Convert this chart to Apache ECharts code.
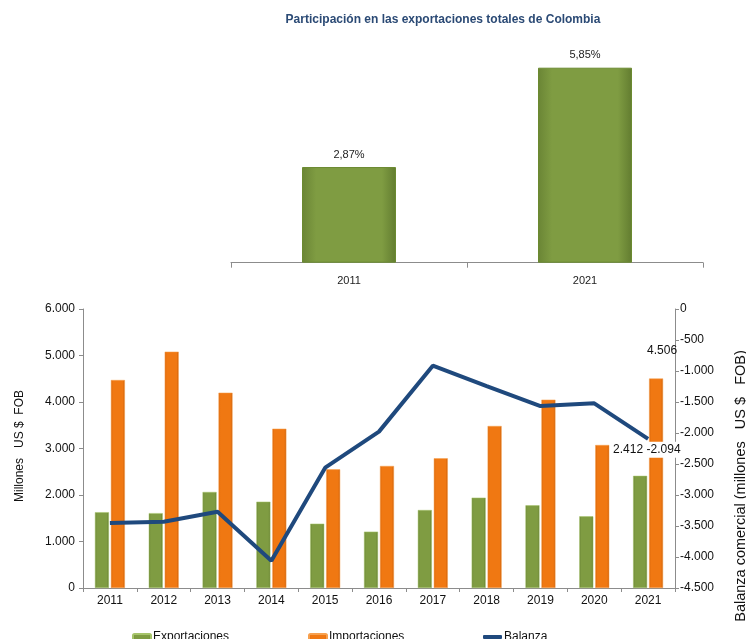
<!DOCTYPE html>
<html><head><meta charset="utf-8">
<script src="https://cdn.jsdelivr.net/npm/echarts@6/dist/echarts.min.js"></script>
<style>html,body{margin:0;padding:0;background:#fff}#c{width:746px;height:639px}</style>
</head><body><div id="c"></div>
<script>
var shareYears = ['2011', '2021'];
var shareValues = [2.87, 5.85];
var years = ['2011','2012','2013','2014','2015','2016','2017','2018','2019','2020','2021'];
var exportaciones = [1630, 1610, 2065, 1856, 1383, 1211, 1677, 1943, 1778, 1541, 2412];
var importaciones = [4473, 5082, 4200, 3426, 2552, 2624, 2789, 3484, 4050, 3075, 4506];
var balanza = [-3450, -3430, -3270, -4059, -2559, -1978, -914, -1245, -1565, -1521, -2094];
var leftTicks = [0, 1000, 2000, 3000, 4000, 5000, 6000];
var rightTicks = [-4500, 0];

function fmt(v){
  var s = Math.abs(Math.round(v)).toString().replace(/\B(?=(\d{3})+(?!\d))/g, '.');
  return (v < 0 ? '-' : '') + s;
}
var FONT = 'Liberation Sans, Arial, sans-serif';
function grad(c1, c2, c3){
  return new echarts.graphic.LinearGradient(0,0,1,0,[
    {offset:0,color:c1},{offset:0.15,color:c2},{offset:0.85,color:c2},{offset:1,color:c3}]);
}
var green = grad('#6a8535','#7f9c42','#627c30');
var orange = grad('#d8650a','#f07812','#c95d08');
var last = years.length - 1;
function lastLabel(arr, lbl){
  return arr.map(function(v, i){ return i === last ? {value:v, label:lbl} : v; });
}

var chart = echarts.init(document.getElementById('c'), null, {renderer:'canvas'});
chart.setOption({
  animation:false,
  title:{text:'Participación en las exportaciones totales de Colombia', left:438, top:9, textAlign:'center',
    textStyle:{fontFamily:FONT, fontSize:12, fontWeight:'bold', color:'#2b4a75'}},
  grid:[
    {left:231, right:43, top:62.7, bottom:376.3},
    {left:83, right:71, top:309, bottom:51}
  ],
  xAxis:[
    {gridIndex:0, type:'category', data:shareYears,
     axisLine:{lineStyle:{color:'#8c8c8c'}}, axisTick:{show:true, length:5, lineStyle:{color:'#8c8c8c'}},
     axisLabel:{fontFamily:FONT, fontSize:11, color:'#222', margin:13}},
    {gridIndex:1, type:'category', data:years,
     axisLine:{lineStyle:{color:'#8c8c8c'}}, axisTick:{show:true, length:4, lineStyle:{color:'#8c8c8c'}},
     axisLabel:{fontFamily:FONT, fontSize:12, color:'#111', margin:7}}
  ],
  yAxis:[
    {gridIndex:0, type:'value', min:0, max:6, show:false},
    {gridIndex:1, type:'value', min:leftTicks[0], max:leftTicks[leftTicks.length-1], interval:1000, position:'left',
     axisLine:{show:true, lineStyle:{color:'#8c8c8c'}}, axisTick:{show:true, length:4, lineStyle:{color:'#8c8c8c'}},
     splitLine:{show:false},
     axisLabel:{fontFamily:FONT, fontSize:12, color:'#111', margin:8, formatter:fmt}},
    {gridIndex:1, type:'value', min:rightTicks[0], max:rightTicks[1], interval:500, position:'right',
     axisLine:{show:true, lineStyle:{color:'#8c8c8c'}}, axisTick:{show:true, length:4, lineStyle:{color:'#8c8c8c'}},
     splitLine:{show:false},
     axisLabel:{fontFamily:FONT, fontSize:12, color:'#111', margin:5, formatter:fmt}}
  ],
  legend:[
    {left:127, top:626, itemWidth:18, itemHeight:6, data:['Exportaciones'],
     textStyle:{fontFamily:FONT, fontSize:12, color:'#111', padding:[0,0,0,-3]}},
    {left:303, top:626, itemWidth:18, itemHeight:6, data:['Importaciones'],
     textStyle:{fontFamily:FONT, fontSize:12, color:'#111', padding:[0,0,0,-3]}},
    {left:478, top:626, itemWidth:19, itemHeight:4,
     data:[{name:'Balanza', icon:'roundRect', itemStyle:{color:'#1f497d', opacity:1}}],
     textStyle:{fontFamily:FONT, fontSize:12, color:'#111', padding:[0,0,0,-3]}}
  ],
  series:[
    {type:'bar', xAxisIndex:0, yAxisIndex:0, data:shareValues, barWidth:94,
     itemStyle:{color:green, borderColor:'#6b8a30', borderWidth:1},
     label:{show:true, position:'top', distance:7, fontFamily:FONT, fontSize:11, color:'#222',
       formatter:function(p){return p.value.toFixed(2).replace('.', ',') + '%';}}},
    {name:'Exportaciones', type:'bar', xAxisIndex:1, yAxisIndex:1, barWidth:14, barGap:'14%',
     data:lastLabel(exportaciones, {show:true, position:'top', distance:20, offset:[-12,0], fontFamily:FONT, fontSize:12, color:'#111', formatter:function(p){return fmt(p.value);}}),
     itemStyle:{color:green, borderColor:'#a6c46a', borderWidth:0.5}},
    {name:'Importaciones', type:'bar', xAxisIndex:1, yAxisIndex:1, barWidth:14,
     data:lastLabel(importaciones, {show:true, position:'top', distance:22, offset:[6,0], fontFamily:FONT, fontSize:12, color:'#111', formatter:function(p){return fmt(p.value);}}),
     itemStyle:{color:orange, borderColor:'#f7a04e', borderWidth:0.5}},
    {name:'Balanza', type:'line', xAxisIndex:1, yAxisIndex:2, symbol:'circle', symbolSize:1,
     showSymbol:true, z:5,
     label:{opacity:1},
     data:lastLabel(balanza, {show:true, opacity:1, position:'right', offset:[-9,11], fontFamily:FONT, fontSize:12, color:'#111',
       backgroundColor:'#fff', padding:[2,2,2,2], formatter:function(p){return fmt(p.value);}}),
     lineStyle:{color:'#1f497d', width:4}, itemStyle:{color:'#1f497d', opacity:0}}
  ],
  graphic:[
    {type:'text', x:20, y:446, rotation:Math.PI/2,
     style:{text:'Millones   US $  FOB', fontFamily:FONT, fontSize:12, fill:'#111', textAlign:'center', textVerticalAlign:'middle'}},
    {type:'text', x:741, y:486, rotation:Math.PI/2,
     style:{text:'Balanza comercial (millones   US $   FOB)', fontFamily:FONT, fontSize:14.5, fill:'#111', textAlign:'center', textVerticalAlign:'middle'}}
  ]
});
</script></body></html>
